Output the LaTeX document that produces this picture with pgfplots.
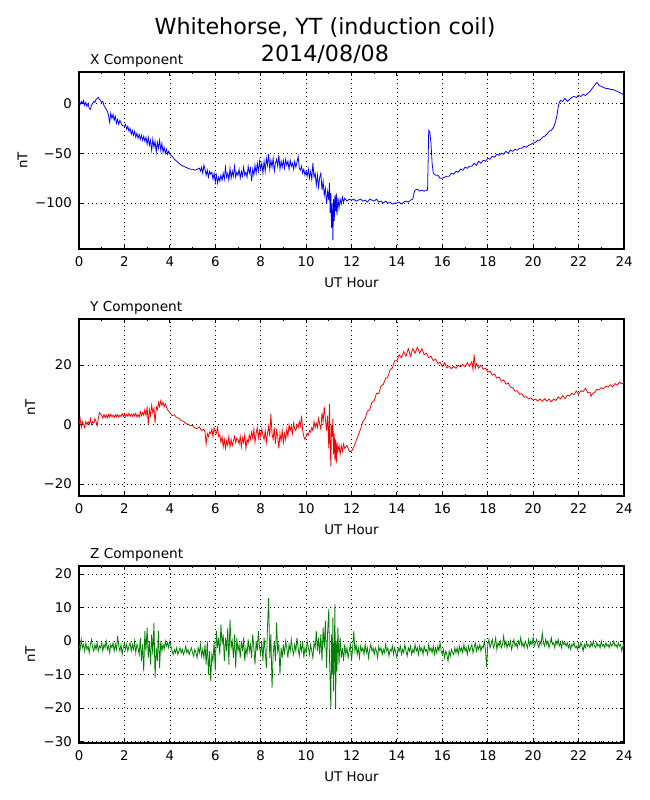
\documentclass[border=0pt]{standalone}
\usepackage{pgfplots}
\pgfplotsset{compat=1.18}
\usepackage{fontspec}
\setmainfont{DejaVu Sans}
\definecolor{mplgreen}{rgb}{0,0.5,0}
\pgfplotsset{
 mag/.style={
  scale only axis, width=490.5pt, height=159.3pt,
  xmin=0, xmax=24,
  xtick={0,2,...,24},
  xticklabels={0,2,4,6,8,10,12,14,16,18,20,22,24},
  minor xtick={1,3,...,23},
  tick align=inside,
  major tick length=4pt, minor tick length=2pt,
  tick style={black, line width=0.8pt},
  xmajorgrids, ymajorgrids,
  major grid style={black, line width=0.5pt, dash pattern=on 0.9pt off 3pt},
  axis line style={black, line width=1pt},
  tick label style={font=\fontsize{12}{14}\selectfont},
  xticklabel style={anchor=base, yshift=-16.2pt},
  yticklabel style={anchor=east, inner sep=0pt, xshift=-6.3pt},
  xlabel={UT Hour},
  every axis x label/.style={at={(axis description cs:0.5,0)}, anchor=base, yshift=-35.1pt, font=\fontsize{12}{14}\selectfont},
  ylabel={nT},
  every axis y label/.style={at={(axis description cs:-0.0807,0.5)}, rotate=90, anchor=base, font=\fontsize{12}{14}\selectfont},
  every axis title/.style={at={(axis description cs:0,1)}, anchor=base west, xshift=6.5pt, yshift=6.3pt, font=\fontsize{12.3}{14}\selectfont},
 }
}
\begin{document}
\begin{tikzpicture}
\path[use as bounding box] (0pt,0pt) rectangle (585pt,720pt);
\node[anchor=base, font=\fontsize{20}{24}\selectfont] at (292.5pt,689.1pt) {Whitehorse, YT (induction coil)};
\node[anchor=base, font=\fontsize{20}{24}\selectfont] at (292.5pt,664.5pt) {2014/08/08};

\begin{axis}[mag, at={(71.1pt,495.9pt)}, anchor=south west,
  ymin=-146, ymax=31.5, ytick={-100,-50,0}, yticklabels={−100,−50,0},
  title={X Component}, ylabel style={at={(axis description cs:-0.0948,0.5)}}]
\addplot[blue, line width=0.7pt, no markers] coordinates {
(0,1)(0.05,-1)(0.1,2)(0.15,0)(0.2,3)(0.25,-2)(0.3,1)(0.35,-3)(0.4,0)(0.45,-5)(0.5,-6)(0.55,-2)(0.6,0)(0.65,2)(0.7,1)(0.75,4)(0.8,5)(0.85,6)(0.9,4)(0.95,3)
(1,1)(1.05,2)(1.1,-2)(1.15,-4)(1.2,-6)(1.25,-8)(1.3,-12)(1.35,-19)(1.4,-10)(1.45,-15)(1.5,-11)(1.55,-17)(1.6,-13)(1.65,-20)(1.7,-16)(1.75,-21)(1.8,-17)(1.9,-22)
(2,-23)(2.05,-21)(2.1,-26)(2.15,-23)(2.2,-28)(2.25,-25)(2.3,-31)(2.35,-27)(2.4,-32)(2.45,-28)(2.5,-34)(2.55,-30)(2.6,-35)(2.65,-31)(2.7,-36)(2.75,-32)(2.8,-37)(2.85,-33)(2.9,-38)(2.95,-34)
(3,-41)(3.05,-34)(3.1,-42)(3.15,-37)(3.2,-47)(3.25,-36)(3.3,-44)(3.35,-38)(3.4,-49)(3.45,-39)(3.5,-45)(3.55,-37)(3.6,-47)(3.65,-40)(3.7,-49)(3.75,-44)(3.8,-50)(3.85,-46)(3.9,-51)(3.95,-48)
(4,-51)(4.1,-53)(4.2,-56)(4.3,-58)(4.4,-60)(4.5,-62)(4.6,-63)(4.7,-64)(4.8,-65)(4.9,-66)(5,-66)(5.1,-67)(5.2,-66)(5.3,-65)(5.35,-68)(5.4,-64)(5.45,-70)(5.5,-62)(5.55,-66)(5.6,-72)(5.65,-67)(5.7,-74)(5.75,-68)(5.8,-71)(5.85,-69)(5.9,-76)(5.95,-70)
(6,-79)(6.05,-72)(6.1,-80)(6.15,-74)(6.2,-78)(6.25,-72)(6.3,-77)(6.35,-70)(6.4,-76)(6.45,-64)(6.5,-74)(6.55,-70)(6.6,-77)(6.65,-65)(6.7,-75)(6.75,-68)(6.8,-73)(6.85,-63)(6.9,-74)(6.95,-69)
(7,-72)(7.05,-66)(7.1,-75)(7.15,-68)(7.2,-73)(7.25,-64)(7.3,-72)(7.35,-69)(7.4,-74)(7.45,-63)(7.5,-70)(7.55,-65)(7.6,-78)(7.65,-66)(7.7,-72)(7.75,-62)(7.8,-70)(7.85,-60)(7.9,-68)(7.95,-58)
(8,-66)(8.05,-60)(8.1,-70)(8.15,-58)(8.2,-68)(8.25,-55)(8.3,-62)(8.35,-51)(8.4,-66)(8.45,-57)(8.5,-64)(8.55,-55)(8.6,-68)(8.65,-60)(8.7,-56)(8.75,-63)(8.8,-52)(8.85,-66)(8.9,-58)(8.95,-64)
(9,-57)(9.05,-65)(9.1,-56)(9.15,-62)(9.2,-58)(9.25,-66)(9.3,-57)(9.35,-63)(9.4,-60)(9.45,-66)(9.5,-58)(9.55,-64)(9.6,-59)(9.65,-53)(9.7,-65)(9.75,-67)(9.8,-63)(9.85,-70)(9.9,-66)(9.95,-72)
(10,-68)(10.05,-73)(10.1,-66)(10.15,-75)(10.2,-68)(10.25,-76)(10.3,-60)(10.35,-74)(10.4,-70)(10.45,-82)(10.5,-72)(10.55,-84)(10.6,-74)(10.65,-70)(10.7,-87)(10.75,-78)(10.8,-92)(10.85,-85)(10.9,-101)(10.95,-88)
(11,-97)(11.03,-80)(11.06,-110)(11.09,-90)(11.12,-125)(11.15,-100)(11.18,-137)(11.21,-96)(11.24,-118)(11.27,-92)(11.3,-108)(11.33,-90)(11.36,-112)(11.4,-95)(11.45,-105)(11.5,-96)(11.55,-101)(11.6,-94)(11.65,-99)(11.7,-95)(11.8,-98)(11.9,-96)
(12,-97)(12.1,-96)(12.2,-98)(12.3,-97)(12.4,-96)(12.5,-98)(12.6,-97)(12.7,-99)(12.8,-96)(12.9,-97)(13,-98)(13.1,-96)(13.2,-99)(13.3,-98)(13.4,-100)(13.5,-98)(13.6,-100)(13.7,-99)(13.8,-101)(13.9,-100)
(14,-100)(14.1,-99)(14.2,-101)(14.3,-99)(14.4,-98)(14.5,-99)(14.6,-97)(14.7,-96)(14.75,-90)(14.8,-87)(14.9,-86)(15,-88)(15.1,-87)(15.2,-88)(15.3,-87)(15.35,-87)(15.4,-27)(15.45,-29)(15.5,-40)(15.55,-60)
(15.6,-70)(15.7,-72)(15.8,-72)(15.9,-75)(16,-75)(16.1,-74)(16.2,-73)(16.3,-73)(16.4,-70)(16.5,-71)(16.6,-68)(16.7,-69)(16.8,-66)(16.9,-67)(17,-64)(17.1,-65)(17.2,-63)(17.3,-63)(17.4,-60)(17.5,-62)(17.6,-58)(17.7,-60)(17.8,-57)(17.9,-58)
(18,-55)(18.1,-56)(18.2,-53)(18.3,-54)(18.4,-51)(18.5,-52)(18.6,-50)(18.7,-51)(18.8,-48)(18.9,-50)(19,-47)(19.1,-48)(19.2,-46)(19.3,-47)(19.4,-45)(19.5,-45)(19.6,-43)(19.7,-44)(19.8,-42)(19.9,-41)
(20,-40)(20.1,-39)(20.2,-37)(20.3,-37)(20.4,-34)(20.5,-33)(20.6,-31)(20.7,-28)(20.8,-27)(20.9,-24)(21,-17)(21.05,-12)(21.1,-4)(21.15,1)(21.2,3)(21.3,2)(21.4,5)(21.5,2)(21.6,4)(21.7,6)(21.8,7)(21.9,6)
(22,8)(22.1,7)(22.2,9)(22.3,8)(22.4,10)(22.5,12)(22.6,15)(22.7,18)(22.8,21)(22.85,20)(22.9,18)(23,17)(23.1,16)(23.2,15)(23.3,15)(23.4,14)(23.5,14)(23.6,13)(23.7,12)(23.8,11)(23.9,10)(24,8)
};
\end{axis}

\begin{axis}[mag, at={(71.1pt,273.6pt)}, anchor=south west,
  ymin=-24, ymax=35.5, ytick={-20,0,20}, yticklabels={−20,0,20},
  title={Y Component}]
\addplot[red, line width=0.7pt, no markers] coordinates {
(0,0)(0.05,2)(0.1,-1)(0.15,1)(0.2,0)(0.25,-1)(0.3,1)(0.35,0)(0.4,1)(0.45,0)(0.5,2)(0.55,0)(0.6,1)(0.65,0.5)(0.7,2)(0.75,1)(0.8,-0.5)(0.85,2)(0.9,4)(0.95,3.5)
(1,3)(1.05,2.2)(1.1,3.4)(1.15,2.4)(1.2,3.2)(1.25,2.3)(1.3,3.4)(1.35,2.5)(1.4,3.5)(1.45,2.6)(1.5,3.2)(1.55,2.4)(1.6,3.3)(1.65,2.6)(1.7,3.4)(1.75,2.5)(1.8,3.2)(1.85,2.7)(1.9,3.7)(1.95,2.8)
(2,3.4)(2.05,2.6)(2.1,3.5)(2.15,2.8)(2.2,3.8)(2.25,2.8)(2.3,3.5)(2.35,2.7)(2.4,3.6)(2.45,2.9)(2.5,3.8)(2.55,2.6)(2.6,3.3)(2.65,2.5)(2.7,4.3)(2.75,3)(2.8,4)(2.85,3.2)(2.9,5)(2.95,3)
(3,6)(3.05,0)(3.1,5)(3.15,3)(3.2,6.5)(3.25,4)(3.3,5.5)(3.35,0.5)(3.4,6)(3.45,5)(3.5,7.5)(3.55,6)(3.6,8)(3.65,6.5)(3.7,7.5)(3.75,6)(3.8,7)(3.9,5)
(4,4)(4.1,3)(4.2,3.3)(4.3,2.3)(4.4,2.2)(4.5,1.3)(4.6,1.2)(4.7,0.3)(4.8,0.2)(4.9,-0.3)(5,-0.3)(5.1,-1.2)(5.2,-1.3)(5.3,-0.8)(5.4,-2)(5.5,-1.5)(5.55,-2.5)(5.6,-6.5)(5.65,-3)(5.7,-4)(5.75,-2.5)(5.8,-3)(5.85,-1.5)(5.9,-4)(5.95,-1)
(6,-2.5)(6.05,-3)(6.1,-1)(6.15,-4)(6.2,-3.5)(6.25,-6)(6.3,-4)(6.35,-7.5)(6.4,-5)(6.45,-8)(6.5,-5.5)(6.55,-7)(6.6,-4)(6.65,-7.5)(6.7,-5)(6.75,-7)(6.8,-5.5)(6.85,-4)(6.9,-6)(6.95,-4.5)
(7,-5)(7.05,-6.5)(7.1,-4)(7.15,-7.5)(7.2,-4.5)(7.25,-6)(7.3,-3.5)(7.35,-8)(7.4,-5)(7.45,-6)(7.5,-3.5)(7.55,-5)(7.6,-2.5)(7.65,-4.5)(7.7,-1.5)(7.75,-6)(7.8,-3)(7.85,-1)(7.9,-4.5)(7.95,-2)
(8,-4)(8.05,-1.5)(8.1,-3.5)(8.15,-5)(8.2,-2)(8.25,-6)(8.3,-3)(8.35,-0.5)(8.4,-4)(8.45,3.5)(8.5,-3)(8.55,-5)(8.6,-1)(8.65,-6.5)(8.7,-2)(8.75,-4)(8.8,-8)(8.85,-3)(8.9,-5.5)(8.95,-2)
(9,-6)(9.05,-3)(9.1,-5)(9.15,-1.5)(9.2,-4)(9.25,0)(9.3,-2)(9.35,-0.5)(9.4,-3)(9.45,0.5)(9.5,-1.5)(9.55,-2)(9.6,0)(9.65,-1)(9.7,1)(9.75,-0.5)(9.8,3)(9.85,-2)(9.9,-4)(9.95,-5)
(10,-4)(10.05,-3)(10.1,-3.5)(10.15,-2)(10.2,-2.5)(10.25,-1)(10.3,-2)(10.35,1)(10.4,-1)(10.45,0.5)(10.5,-1)(10.55,2)(10.6,0)(10.65,-1.5)(10.7,4)(10.75,1)(10.8,6)(10.85,2)(10.9,-2)(10.95,3)
(11,-8)(11.03,7)(11.06,-6)(11.09,-14)(11.12,0)(11.15,-4)(11.18,2)(11.21,-10)(11.24,-3)(11.27,-12)(11.3,-5)(11.33,-13)(11.36,-6)(11.4,-9)(11.45,-7)(11.5,-10)(11.55,-7)(11.6,-9)(11.65,-6.5)(11.7,-8)(11.8,-7)(11.9,-9)
(12,-9)(12.1,-7.5)(12.2,-5.5)(12.3,-3.5)(12.4,-1.5)(12.5,1)(12.6,2)(12.7,4.5)(12.8,5)(12.9,7.5)(13,8)(13.1,10.5)(13.2,10.5)(13.3,13)(13.4,13.5)(13.5,15.5)(13.6,16)(13.7,18.5)(13.8,19)(13.9,21.5)
(14,21.5)(14.1,23.5)(14.2,22.5)(14.3,24.5)(14.4,23)(14.5,25.5)(14.6,23)(14.7,25.5)(14.8,24)(14.9,26)(15,24)(15.1,25.5)(15.2,23.5)(15.3,24)(15.4,22.5)(15.5,23)(15.6,21.5)(15.7,22)(15.8,20.5)(15.9,21)
(16,19.5)(16.1,20.8)(16.2,19)(16.3,19.6)(16.4,18.8)(16.5,19.6)(16.6,18.9)(16.7,20)(16.8,19.4)(16.9,20.2)(17,19.4)(17.1,20.8)(17.2,19.6)(17.3,21.2)(17.35,18.5)(17.4,23.5)(17.45,19)(17.5,20.5)(17.6,19)(17.7,20)(17.8,18.6)(17.9,19)
(18,17.6)(18.1,18)(18.2,16.6)(18.3,17)(18.4,15.6)(18.5,16)(18.6,14.6)(18.7,15)(18.8,13.6)(18.9,14)(19,12.6)(19.1,12.4)(19.2,11.2)(19.3,11.4)(19.4,10.2)(19.5,10.4)(19.6,9.2)(19.7,9.4)(19.8,8.6)(19.9,9)
(20,8.2)(20.1,8.6)(20.2,7.9)(20.3,8.6)(20.4,7.8)(20.5,8.7)(20.6,7.9)(20.7,8.6)(20.8,7.7)(20.9,8.6)(21,8.1)(21.1,9.3)(21.2,8.6)(21.3,9.8)(21.4,8.7)(21.5,9.9)(21.6,9.6)(21.7,10.5)(21.8,10.1)(21.9,11.3)
(22,10.2)(22.1,11.4)(22.2,11.1)(22.3,12.2)(22.4,10.8)(22.5,10.8)(22.55,9.5)(22.6,10.3)(22.7,10.8)(22.8,11.8)(22.9,11.7)(23,12.4)(23.1,12.1)(23.2,12.9)(23.3,12.6)(23.4,13.4)(23.5,12.7)(23.6,13.8)(23.7,13.2)(23.8,14.3)(23.9,13.7)(24,14.2)
};
\end{axis}

\begin{axis}[mag, at={(71.1pt,51.3pt)}, anchor=south west,
  ymin=-30.4, ymax=22.4, ytick={-30,-20,-10,0,10,20}, yticklabels={−30,−20,−10,0,10,20},
  title={Z Component}]
\addplot[mplgreen, line width=0.7pt, no markers] coordinates {
(0,-1)(0.05,-2.5)(0.1,0.5)(0.15,-2)(0.2,-1)(0.25,-3)(0.3,-0.5)(0.35,-2.5)(0.4,-1.5)(0.45,-3.5)(0.5,-1)(0.55,0.5)(0.6,-2)(0.65,-3)(0.7,-1)(0.75,-2.5)(0.8,-0.5)(0.85,-3)(0.9,-1.5)(0.95,-2)
(1,-0.5)(1.05,-3)(1.1,-1)(1.15,-2)(1.2,0)(1.25,-2.5)(1.3,-1.5)(1.35,-3.5)(1.4,-1)(1.45,-2)(1.5,-0.5)(1.55,-3)(1.6,-1)(1.65,-2.5)(1.7,1.5)(1.75,-1.5)(1.8,-3)(1.85,-1)(1.9,-4)(1.95,-2)
(2,-0.5)(2.05,-2.5)(2.1,-1)(2.15,-3)(2.2,-1.5)(2.25,-0.5)(2.3,-3)(2.35,-1)(2.4,-2.5)(2.45,0)(2.5,-3.5)(2.55,-1)(2.6,-2)(2.65,-4)(2.7,1)(2.75,-6)(2.8,-1)(2.85,-9)(2.9,3)(2.95,-3)
(3,4)(3.05,-5)(3.1,0)(3.15,-7)(3.2,2)(3.25,-4)(3.3,5.5)(3.35,-11)(3.4,-2)(3.45,-6)(3.5,3)(3.55,-8)(3.6,0)(3.65,-3)(3.7,-1)(3.75,-2.5)(3.8,0)(3.85,-1.5)(3.9,-0.5)(3.95,-2)
(4,0)(4.05,-1.5)(4.1,-3)(4.15,-4)(4.2,-2.5)(4.25,-3.5)(4.3,-2)(4.35,-4)(4.4,-3)(4.45,-2)(4.5,-3.5)(4.55,-2.5)(4.6,-4)(4.65,-3)(4.7,-1.5)(4.75,-3.5)(4.8,-2.5)(4.85,-4)(4.9,-3)(4.95,-2)
(5,-3.5)(5.05,-4.5)(5.1,-2.5)(5.15,-3.5)(5.2,-5)(5.25,-2)(5.3,-3.5)(5.35,-1)(5.4,-4.5)(5.45,-2.5)(5.5,-5)(5.55,-1)(5.6,-7)(5.65,0)(5.7,-10)(5.75,-3)(5.8,-12)(5.85,-4)(5.9,-6)(5.95,0)
(6,-9)(6.05,3)(6.1,-2)(6.15,1)(6.2,-4)(6.25,5)(6.3,-1)(6.35,2)(6.4,-6)(6.45,1)(6.5,-3)(6.55,4)(6.6,-7)(6.65,6.5)(6.7,-2)(6.75,0)(6.8,-5)(6.85,2)(6.9,-8)(6.95,1)
(7,-3)(7.05,-1)(7.1,-5)(7.15,0)(7.2,-3)(7.25,1)(7.3,-6)(7.35,-2)(7.4,-4)(7.45,0.5)(7.5,-3)(7.55,-1)(7.6,-5)(7.65,2)(7.7,-2)(7.75,-7)(7.8,0)(7.85,-3)(7.9,3)(7.95,-2)
(8,-4)(8.05,0)(8.1,-6)(8.15,1)(8.2,-3)(8.25,-8)(8.3,4)(8.35,12.8)(8.4,-5)(8.45,2)(8.5,-14)(8.55,-4)(8.6,0)(8.65,-6)(8.7,5.5)(8.75,-3)(8.8,-1)(8.85,-10)(8.9,-2)(8.95,-5)
(9,-1)(9.05,-4)(9.1,0)(9.15,-2)(9.2,-5)(9.25,-1)(9.3,-3)(9.35,0.5)(9.4,-2.5)(9.45,-4)(9.5,-1)(9.55,-3)(9.6,1)(9.65,-2)(9.7,-4.5)(9.75,-1)(9.8,-3)(9.85,0)(9.9,-5)(9.95,-2)
(10,-3.5)(10.05,0)(10.1,-2)(10.15,-4)(10.2,-1)(10.25,-3)(10.3,-5)(10.35,-0.5)(10.4,-2)(10.45,3)(10.5,-3)(10.55,1)(10.6,-4)(10.65,2)(10.7,-6)(10.75,4)(10.8,-2)(10.85,6)(10.9,-8)(10.95,3)
(11,9.6)(11.03,-5)(11.06,-12)(11.09,-20)(11.12,2)(11.15,-10)(11.18,7)(11.21,-15)(11.24,-4)(11.27,11)(11.3,-20)(11.33,0)(11.36,-9)(11.4,4)(11.45,-7)(11.5,1)(11.55,-5)(11.6,-2)(11.65,-6)(11.7,-1)(11.75,-4)(11.8,-2)(11.85,-5)(11.9,-3)(11.95,-1)
(12,-6)(12.05,-2)(12.1,3)(12.15,-3)(12.2,-1)(12.25,-4)(12.3,-2)(12.35,-5)(12.4,-1.5)(12.45,-3)(12.5,-2)(12.55,-4)(12.6,-1)(12.65,-3.5)(12.7,-2)(12.75,-5)(12.8,-2.5)(12.85,-1)(12.9,-3)(12.95,-2)
(13,-4)(13.05,-2)(13.1,-3)(13.15,-5)(13.2,-1.5)(13.25,-3)(13.3,-2)(13.35,-4)(13.4,-2.5)(13.45,-3.5)(13.5,-1)(13.55,-3)(13.6,-2)(13.65,-4.5)(13.7,-2.5)(13.75,-3)(13.8,-1.5)(13.85,-4)(13.9,-2)(13.95,-3.5)
(14,-5)(14.05,-2)(14.1,-3)(14.15,-1.5)(14.2,-4)(14.25,-2.5)(14.3,-3.5)(14.35,-1)(14.4,-3)(14.45,-4.5)(14.5,-2)(14.55,-3)(14.6,-1.5)(14.65,-4)(14.7,-2.5)(14.75,-3.5)(14.8,-1)(14.85,-3)(14.9,-2)(14.95,-4)
(15,-1.5)(15.05,-3)(15.1,-2)(15.15,-4)(15.2,-1.5)(15.25,-3)(15.3,-2.5)(15.35,-4)(15.4,-1)(15.45,-3)(15.5,-2)(15.55,-3.5)(15.6,-1.5)(15.65,-4)(15.7,-2)(15.75,-3.5)(15.8,-1.5)(15.85,-3)(15.9,-0.5)(15.95,-3)
(16,-4)(16.05,-2.5)(16.1,-5)(16.15,-3)(16.2,-4)(16.25,-6)(16.3,-3)(16.35,-4.5)(16.4,-2.5)(16.45,-3.5)(16.5,-4)(16.55,-2)(16.6,-3.5)(16.65,-2)(16.7,-4)(16.75,-1.5)(16.8,-3)(16.85,-2)(16.9,-3.5)(16.95,-1)
(17,-3)(17.05,-2)(17.1,-4)(17.15,-1.5)(17.2,-3)(17.25,-2)(17.3,-1)(17.35,-3.5)(17.4,-2)(17.45,-0.5)(17.5,-3)(17.55,-1.5)(17.6,-2.5)(17.65,-1)(17.7,-3)(17.75,-1.5)(17.8,-2)(17.85,0)(17.9,-2.5)(17.95,-7.8)
(18,-1)(18.05,0.5)(18.1,-2)(18.15,-1)(18.2,0.5)(18.25,-2)(18.3,-1)(18.35,1)(18.4,-2.5)(18.45,-0.5)(18.5,-1.5)(18.55,0)(18.6,-2)(18.65,-1)(18.7,1.5)(18.75,-1.5)(18.8,0)(18.85,-2)(18.9,-0.5)(18.95,-1.5)
(19,0)(19.05,-2.5)(19.1,-1)(19.15,0.5)(19.2,-1.5)(19.25,-0.5)(19.3,-2)(19.35,0)(19.4,-1)(19.45,1)(19.5,-1.5)(19.55,-0.5)(19.6,-2)(19.65,0)(19.7,-1)(19.75,-2)(19.8,0.5)(19.85,-1.5)(19.9,0)(19.95,-1)
(20,1)(20.05,-1.5)(20.1,-0.5)(20.15,0.5)(20.2,-1)(20.25,-2)(20.3,0)(20.35,-1)(20.4,2.4)(20.45,-0.5)(20.5,-1.5)(20.55,0.5)(20.6,-1)(20.65,0)(20.7,-2)(20.75,-0.5)(20.8,1)(20.85,-1)(20.9,-0.5)(20.95,-2)
(21,0)(21.05,-1)(21.1,0.5)(21.15,-1.5)(21.2,-0.5)(21.25,-2)(21.3,0)(21.35,-1)(21.4,-0.5)(21.45,-1.5)(21.5,-0.5)(21.55,-2)(21.6,-1)(21.65,-2.5)(21.7,-1)(21.75,-1.5)(21.8,-0.5)(21.85,-2)(21.9,-1.5)(21.95,-2.5)
(22,-1)(22.05,-2)(22.1,-0.5)(22.15,-1.5)(22.2,-3)(22.25,-1)(22.3,-2)(22.35,-0.5)(22.4,-1.5)(22.45,-1)(22.5,-2)(22.55,-0.5)(22.6,-1.5)(22.65,0)(22.7,-1.5)(22.75,-2)(22.8,-0.5)(22.85,-1.5)(22.9,-1)(22.95,-2)
(23,0)(23.05,-1.5)(23.1,-1)(23.15,-2)(23.2,-0.5)(23.25,-1.5)(23.3,-1)(23.35,-2)(23.4,-0.5)(23.45,-1.5)(23.5,-1)(23.55,0)(23.6,-1.5)(23.65,-1)(23.7,-2)(23.75,-0.5)(23.8,-1.5)(23.85,-1)(23.9,-3)(23.95,-1.5)(24,-1)
};
\end{axis}
\end{tikzpicture}
\end{document}
